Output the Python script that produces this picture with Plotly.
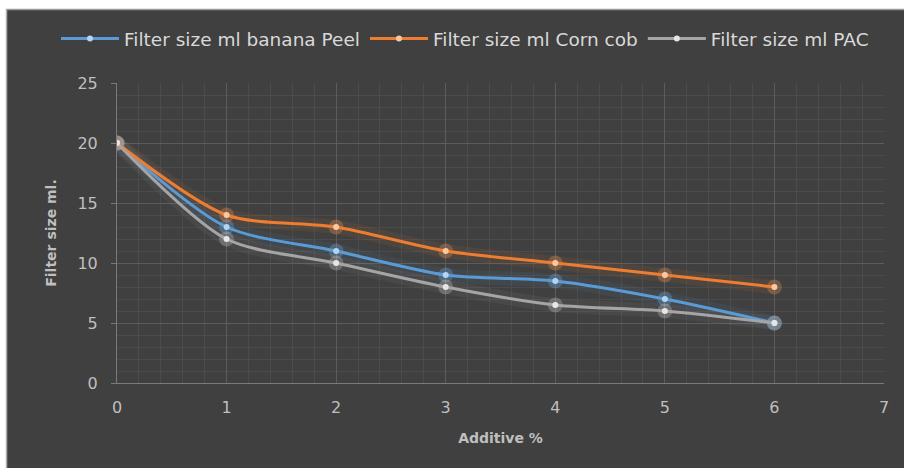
import plotly.graph_objects as go

additive = [0, 1, 2, 3, 4, 5, 6]
banana_peel = [20, 13, 11, 9, 8.5, 7, 5]
corn_cob = [20, 14, 13, 11, 10, 9, 8]
pac = [20, 12, 10, 8, 6.5, 6, 5]

series = [
    ("Filter size ml banana Peel", banana_peel, "#5b9bd5", "rgba(91,155,213,0.08)", "#b4d3f0", "rgba(120,175,230,0.30)"),
    ("Filter size ml Corn cob", corn_cob, "#ed7d31", "rgba(237,125,49,0.08)", "#f9c9a6", "rgba(240,150,90,0.30)"),
    ("Filter size ml PAC", pac, "#a5a5a5", "rgba(200,200,200,0.06)", "#e6e6e6", "rgba(220,220,220,0.26)"),
]

FONT = "DejaVu Sans, Verdana, sans-serif"

fig = go.Figure()
for name, vals, col, glow, mcol, mglow in series:
    fig.add_trace(go.Scatter(x=additive, y=vals, mode="lines", showlegend=False, hoverinfo="skip",
                             line=dict(color=glow, width=14, shape="spline", smoothing=0.8)))
for name, vals, col, glow, mcol, mglow in series:
    fig.add_trace(go.Scatter(x=additive, y=vals, mode="markers", showlegend=False, hoverinfo="skip",
                             marker=dict(color=mglow, size=15, line=dict(width=0))))
for name, vals, col, glow, mcol, mglow in series:
    fig.add_trace(go.Scatter(x=additive, y=vals, mode="lines+markers", name=name,
                             line=dict(color=col, width=3, shape="spline", smoothing=0.8),
                             marker=dict(color=mcol, size=6, line=dict(width=0))))

W, H = 904, 468
L, R, T, B = 117, 20, 83, 85
pw, ph = W - L - R, H - T - B

def px_x(p):
    return (p - L) / pw

def px_y(p):
    return 1 + (T - p) / ph

fig.update_layout(
    width=W, height=H,
    margin=dict(l=L, r=R, t=T, b=B),
    paper_bgcolor="#ffffff", plot_bgcolor="#404040",
    font=dict(family=FONT, color="#bfbfbf", size=16),
    legend=dict(orientation="h", x=px_x(56), xanchor="left", y=px_y(39), yanchor="middle",
                font=dict(size=18.5, color="#d9d9d9", family=FONT), bgcolor="rgba(0,0,0,0)",
                itemwidth=58, tracegroupgap=0),
    xaxis=dict(range=[0, 7], dtick=1, tick0=0, showgrid=True, gridcolor="#5c5c5c", gridwidth=1,
               minor=dict(dtick=0.2, showgrid=True, gridcolor="#4b4b4b", gridwidth=1),
               showline=True, linecolor="#7a7a7a", linewidth=1, zeroline=False,
               ticks="", ticklabelstandoff=10,
               tickfont=dict(size=16, color="#bfbfbf"),
               title=dict(text="<b>Additive %</b>", font=dict(size=14, color="#bfbfbf"), standoff=16)),
    yaxis=dict(range=[0, 25], dtick=5, tick0=0, showgrid=True, gridcolor="#5c5c5c", gridwidth=1,
               minor=dict(dtick=1, showgrid=True, gridcolor="#4b4b4b", gridwidth=1),
               showline=True, linecolor="#7a7a7a", linewidth=1, zeroline=False,
               ticks="outside", ticklen=5, tickcolor="#7a7a7a", ticklabelstandoff=10,
               tickfont=dict(size=16, color="#bfbfbf"),
               title=dict(text="<b>Filter size ml.</b>", font=dict(size=14, color="#bfbfbf"), standoff=17)),
    shapes=[
        dict(type="rect", xref="paper", yref="paper", x0=px_x(6), x1=px_x(W + 2), y0=px_y(H + 2), y1=px_y(9),
             fillcolor="#404040", line=dict(width=0), layer="below"),
        dict(type="line", xref="paper", yref="paper", x0=px_x(6), x1=px_x(W + 2), y0=px_y(9.5), y1=px_y(9.5),
             line=dict(color="#9a9a9a", width=1.5), layer="below"),
        dict(type="line", xref="paper", yref="paper", x0=px_x(6.5), x1=px_x(6.5), y0=px_y(9), y1=px_y(H + 2),
             line=dict(color="#b0b0b0", width=1.5), layer="below"),
    ],
)

fig.write_html("out.html")
